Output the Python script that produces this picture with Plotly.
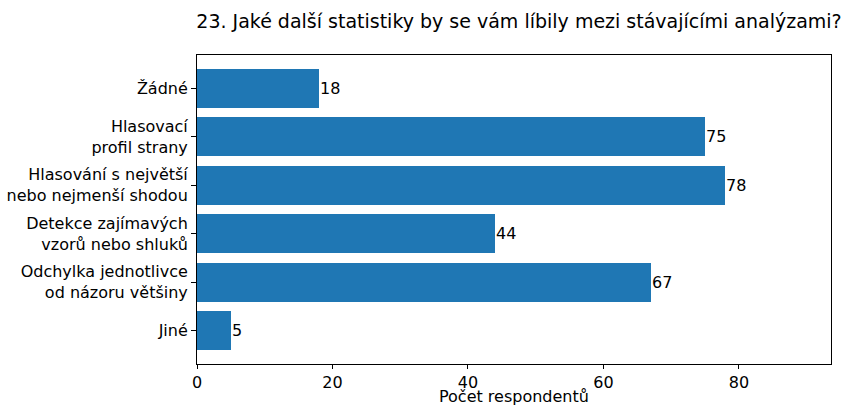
import plotly.graph_objects as go

categories = [
    "Žádné",
    "Hlasovací<br>profil strany",
    "Hlasování s největší<br>nebo nejmenší shodou",
    "Detekce zajímavých<br>vzorů nebo shluků",
    "Odchylka jednotlivce<br>od názoru většiny",
    "Jiné",
]
values = [18, 75, 78, 44, 67, 5]
x_ticks = [0, 20, 40, 60, 80]
x_title = "Počet respondentů"

positions = list(range(len(categories)))

fig = go.Figure()
fig.add_trace(go.Bar(
    y=positions,
    x=values,
    orientation="h",
    width=0.8,
    marker=dict(color="#1f77b4", line=dict(width=0)),
    hoverinfo="skip",
))
for p, v in zip(positions, values):
    fig.add_annotation(
        x=v, y=p, xref="x", yref="y", text=str(v), showarrow=False,
        xanchor="left", yanchor="middle", xshift=-1,
        font=dict(family="DejaVu Sans", size=16, color="black"),
    )
fig.add_annotation(
    x=0.5, y=0, xref="paper", yref="paper", text=x_title, showarrow=False,
    xanchor="center", yanchor="bottom", yshift=-43, borderpad=0,
    font=dict(family="DejaVu Sans", size=16, color="black"),
)

fig.update_layout(
    width=844,
    height=407,
    margin=dict(l=197, r=13, t=55, b=43),
    paper_bgcolor="white",
    plot_bgcolor="white",
    font=dict(family="DejaVu Sans", size=16, color="black"),
    title=dict(
        text="23. Jaké další statistiky by se vám líbily mezi stávajícími analýzami?",
        x=519 / 844, xanchor="center", xref="container",
        y=1 - 21 / 407, yanchor="middle",
        font=dict(family="DejaVu Sans", size=19, color="black"),
    ),
    showlegend=False,
    bargap=0,
)
fig.update_xaxes(
    range=[0, 93.6],
    tickvals=x_ticks,
    ticktext=[str(t) for t in x_ticks],
    ticks="outside", ticklen=4, tickwidth=1, tickcolor="black",
    showline=True, linecolor="black", linewidth=1, mirror=True,
    showgrid=False, zeroline=False, automargin=False,
    tickfont=dict(size=16),
)
fig.update_yaxes(
    range=[5.69, -0.69],
    tickvals=positions,
    ticktext=categories,
    ticks="outside", ticklen=5, tickwidth=1, tickcolor="black",
    showline=True, linecolor="black", linewidth=1, mirror=True,
    showgrid=False, zeroline=False, automargin=False,
    tickfont=dict(size=16),
)

fig.write_html(
    "out.html",
    config={"displayModeBar": False},
    post_script="document.body.style.margin='0';document.body.style.overflow='hidden';",
)
